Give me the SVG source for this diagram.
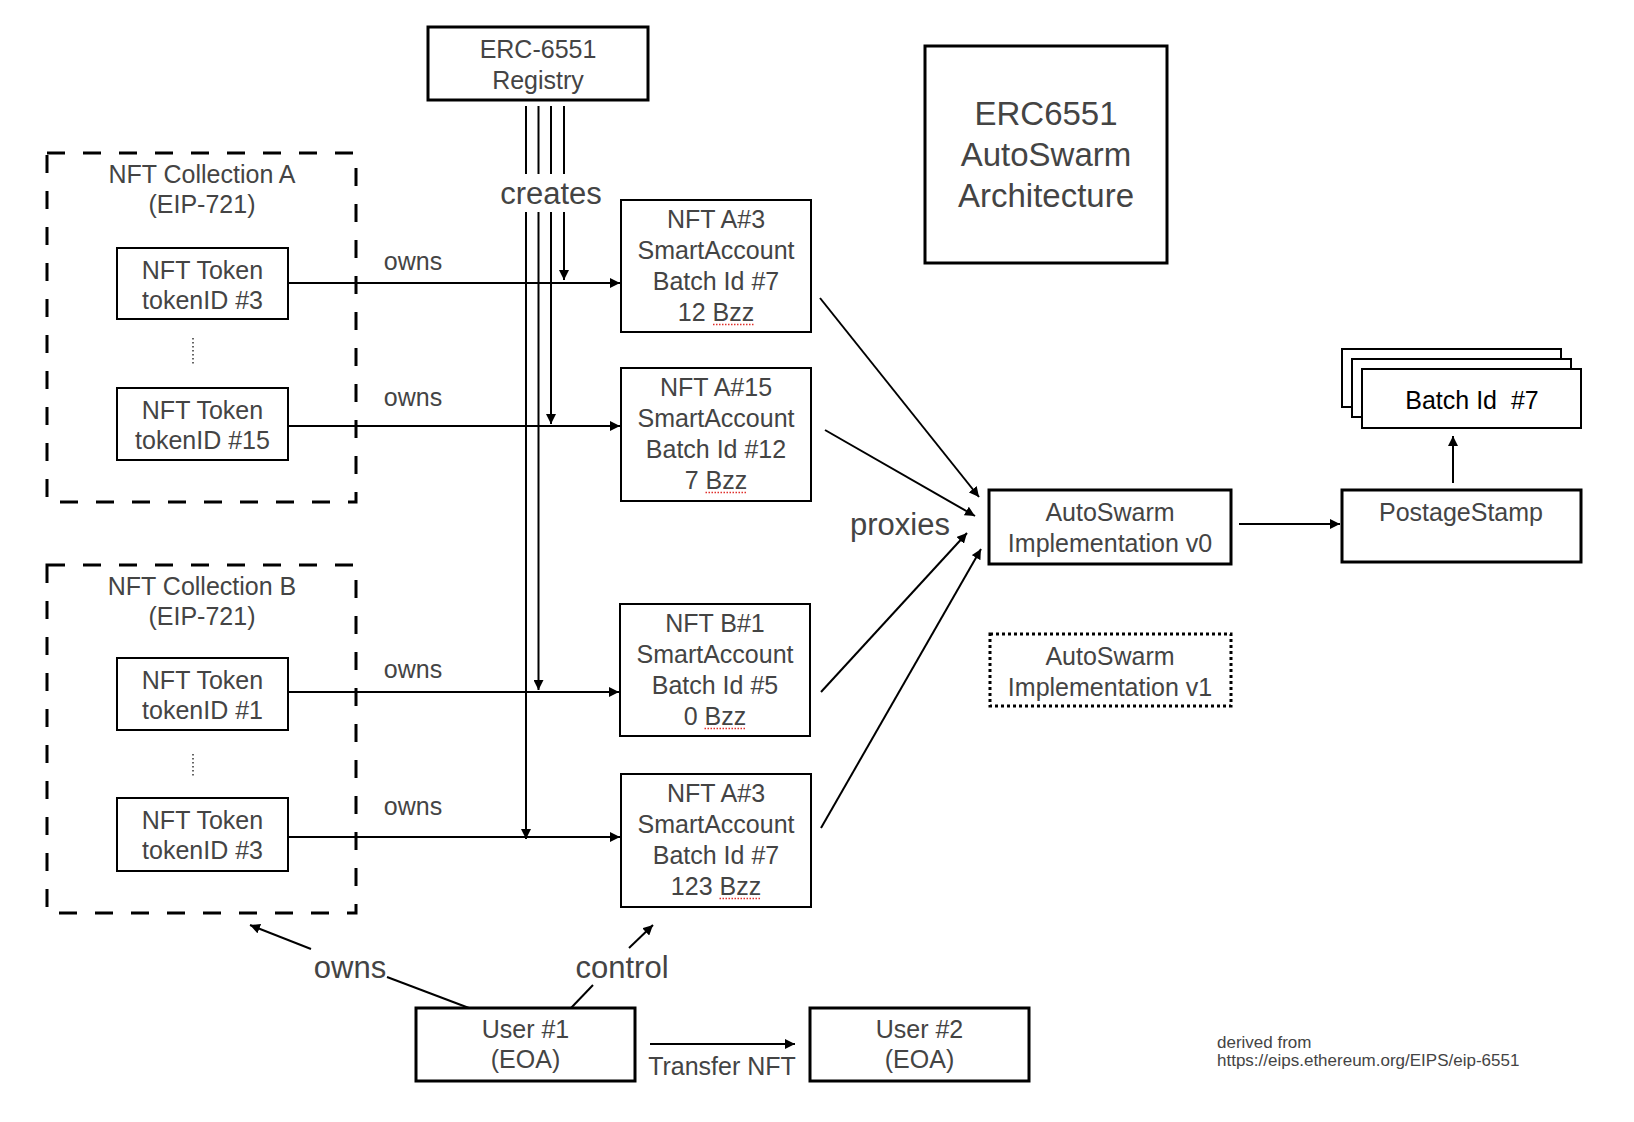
<svg xmlns="http://www.w3.org/2000/svg" width="1634" height="1122" viewBox="0 0 1634 1122">
<style>
text{font-family:"Liberation Sans",Arial,Helvetica,sans-serif;fill:#444;text-anchor:middle}
.t25{font-size:25px}
.t31{font-size:31px}
.t33{font-size:33px}
.b2{fill:#fff;stroke:#000;stroke-width:2}
.b3{fill:#fff;stroke:#000;stroke-width:3}
.dash{fill:none;stroke:#000;stroke-width:3;stroke-dasharray:18 18}
.dot{fill:none;stroke:#000;stroke-width:3;stroke-dasharray:3 3}
.ln{fill:none;stroke:#000;stroke-width:2}
.arr{fill:none;stroke:#000;stroke-width:2;marker-end:url(#ah)}
.spell{stroke:#e0302c;stroke-width:1.5;stroke-dasharray:1.5 1.5}
.vdots{stroke:#333;stroke-width:1.5;stroke-dasharray:1.5 2.5}
</style>
<defs>
<marker id="ah" viewBox="0 0 10 10" refX="10" refY="5" markerWidth="5" markerHeight="5" markerUnits="strokeWidth" orient="auto">
<path d="M0,0 L10,5 L0,10 Z" fill="#000"/>
</marker>
</defs>
<rect width="1634" height="1122" fill="#fff"/>

<g id="collection-a">
<rect class="dash" x="47" y="153" width="309" height="349"/>
<text class="t25" x="202" y="183">NFT Collection A</text>
<text class="t25" x="202" y="213">(EIP-721)</text>
<line class="vdots" x1="193" y1="338" x2="193" y2="366"/>
</g>
<g id="token-a3">
<rect class="b2" x="117" y="248" width="171" height="71"/>
<text class="t25" x="202.5" y="279">NFT Token</text>
<text class="t25" x="202.5" y="309">tokenID #3</text>
</g>
<g id="token-a15">
<rect class="b2" x="117" y="388" width="171" height="72"/>
<text class="t25" x="202.5" y="419">NFT Token</text>
<text class="t25" x="202.5" y="449">tokenID #15</text>
</g>

<g id="collection-b">
<rect class="dash" x="47" y="565" width="309" height="348"/>
<text class="t25" x="202" y="595">NFT Collection B</text>
<text class="t25" x="202" y="625">(EIP-721)</text>
<line class="vdots" x1="193" y1="754" x2="193" y2="776"/>
</g>
<g id="token-b1">
<rect class="b2" x="117" y="658" width="171" height="72"/>
<text class="t25" x="202.5" y="689">NFT Token</text>
<text class="t25" x="202.5" y="719">tokenID #1</text>
</g>
<g id="token-b3">
<rect class="b2" x="117" y="798" width="171" height="73"/>
<text class="t25" x="202.5" y="829">NFT Token</text>
<text class="t25" x="202.5" y="859">tokenID #3</text>
</g>

<g id="registry">
<rect class="b3" x="428" y="27" width="220" height="73"/>
<text class="t25" x="538" y="58">ERC-6551</text>
<text class="t25" x="538" y="89">Registry</text>
</g>

<g id="title">
<rect class="b3" x="925" y="46" width="242" height="217"/>
<text class="t33" x="1046" y="125">ERC6551</text>
<text class="t33" x="1046" y="166">AutoSwarm</text>
<text class="t33" x="1046" y="207">Architecture</text>
</g>

<g id="sa-a3">
<rect class="b2" x="621" y="200" width="190" height="132"/>
<text class="t25" x="716" y="228">NFT A#3</text>
<text class="t25" x="716" y="259">SmartAccount</text>
<text class="t25" x="716" y="290">Batch Id #7</text>
<text class="t25" x="716" y="321">12 Bzz</text>
<line class="spell" x1="713" y1="324.5" x2="754" y2="324.5"/>
</g>
<g id="sa-a15">
<rect class="b2" x="621" y="368" width="190" height="133"/>
<text class="t25" x="716" y="396">NFT A#15</text>
<text class="t25" x="716" y="427">SmartAccount</text>
<text class="t25" x="716" y="458">Batch Id #12</text>
<text class="t25" x="716" y="489">7 Bzz</text>
<line class="spell" x1="705.5" y1="492.5" x2="747.5" y2="492.5"/>
</g>
<g id="sa-b1">
<rect class="b2" x="620" y="604" width="190" height="132"/>
<text class="t25" x="715" y="632">NFT B#1</text>
<text class="t25" x="715" y="663">SmartAccount</text>
<text class="t25" x="715" y="694">Batch Id #5</text>
<text class="t25" x="715" y="725">0 Bzz</text>
<line class="spell" x1="704.5" y1="728.5" x2="746.5" y2="728.5"/>
</g>
<g id="sa-a3-2">
<rect class="b2" x="621" y="774" width="190" height="133"/>
<text class="t25" x="716" y="802">NFT A#3</text>
<text class="t25" x="716" y="833">SmartAccount</text>
<text class="t25" x="716" y="864">Batch Id #7</text>
<text class="t25" x="716" y="895">123 Bzz</text>
<line class="spell" x1="719.5" y1="898.5" x2="761" y2="898.5"/>
</g>

<g id="impl-v0">
<rect class="b3" x="989" y="490" width="242" height="74"/>
<text class="t25" x="1110" y="521">AutoSwarm</text>
<text class="t25" x="1110" y="552">Implementation v0</text>
</g>
<g id="impl-v1">
<rect class="dot" x="990" y="634" width="241" height="72"/>
<text class="t25" x="1110" y="665">AutoSwarm</text>
<text class="t25" x="1110" y="696">Implementation v1</text>
</g>
<g id="postage-stamp">
<rect class="b3" x="1342" y="490" width="239" height="72"/>
<text class="t25" x="1461" y="521">PostageStamp</text>
</g>
<g id="batch-stack">
<rect class="b2" x="1342" y="349" width="219" height="58"/>
<rect class="b2" x="1352" y="359" width="219" height="58"/>
<rect class="b2" x="1362" y="369" width="219" height="59"/>
<text class="t25" x="1472" y="409" style="fill:#000;white-space:pre" xml:space="preserve">Batch Id  #7</text>
</g>

<g id="user-1">
<rect class="b3" x="416" y="1008" width="219" height="73"/>
<text class="t25" x="525.5" y="1038">User #1</text>
<text class="t25" x="525.5" y="1068">(EOA)</text>
</g>
<g id="user-2">
<rect class="b3" x="810" y="1008" width="219" height="73"/>
<text class="t25" x="919.5" y="1038">User #2</text>
<text class="t25" x="919.5" y="1068">(EOA)</text>
</g>

<g id="connectors">
<!-- owns -->
<line class="arr" x1="288" y1="283" x2="620" y2="283"/>
<line class="arr" x1="288" y1="426" x2="620" y2="426"/>
<line class="arr" x1="288" y1="692" x2="619" y2="692"/>
<line class="arr" x1="288" y1="837" x2="620" y2="837"/>
<!-- creates -->
<line class="ln" x1="526" y1="106" x2="526" y2="174"/>
<line class="ln" x1="538.5" y1="106" x2="538.5" y2="174"/>
<line class="ln" x1="551" y1="106" x2="551" y2="174"/>
<line class="ln" x1="564" y1="106" x2="564" y2="174"/>
<line class="arr" x1="564" y1="212" x2="564" y2="280"/>
<line class="arr" x1="551" y1="212" x2="551" y2="424"/>
<line class="arr" x1="538.5" y1="212" x2="538.5" y2="690"/>
<line class="arr" x1="526" y1="212" x2="526" y2="839"/>
<!-- proxies -->
<line class="arr" x1="820" y1="298" x2="979" y2="497"/>
<line class="arr" x1="825" y1="430" x2="975" y2="516"/>
<line class="arr" x1="821" y1="692" x2="967" y2="533"/>
<line class="arr" x1="821" y1="828" x2="981" y2="549"/>
<!-- impl to postage stamp -->
<line class="arr" x1="1239" y1="524" x2="1340" y2="524"/>
<line class="arr" x1="1453" y1="483" x2="1453" y2="436"/>
<!-- user -->
<line class="ln" x1="469" y1="1008" x2="387" y2="977"/>
<line class="arr" x1="311" y1="949" x2="250" y2="925"/>
<line class="ln" x1="571" y1="1008" x2="593" y2="985"/>
<line class="arr" x1="629" y1="948" x2="653" y2="925"/>
<line class="arr" x1="650" y1="1044" x2="795" y2="1044"/>
</g>

<g id="labels">
<text class="t25" x="413" y="270">owns</text>
<text class="t25" x="413" y="406">owns</text>
<text class="t25" x="413" y="678">owns</text>
<text class="t25" x="413" y="815">owns</text>
<text class="t31" x="551" y="204">creates</text>
<text class="t31" x="900" y="535">proxies</text>
<text class="t31" x="350" y="978">owns</text>
<text class="t31" x="622" y="978">control</text>
<text class="t25" x="722" y="1075">Transfer NFT</text>
<text x="1217" y="1048" style="font-size:17px;text-anchor:start">derived from</text>
<text x="1217" y="1066" style="font-size:17px;text-anchor:start">https://eips.ethereum.org/EIPS/eip-6551</text>
</g>
</svg>
